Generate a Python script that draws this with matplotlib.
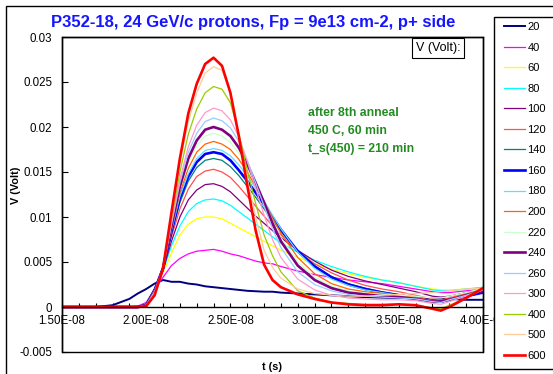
import matplotlib
matplotlib.use("Agg")
import matplotlib.pyplot as plt
from matplotlib.patches import Rectangle
from matplotlib.ticker import MultipleLocator, FuncFormatter
from matplotlib.lines import Line2D

plt.rcParams['font.family'] = ['Liberation Sans', 'DejaVu Sans']

# time axis (ns), values in mV
t_ns = [15, 17, 18, 19, 19.5, 20, 20.5, 21, 21.5, 22, 22.5, 23, 23.5, 24, 24.5, 25,
        25.5, 26, 26.5, 27, 27.5, 28, 29, 30, 31, 32, 33, 34, 35, 36, 37, 37.5, 38, 39, 40]

v20 = [0, 0, 0.2, 0.9, 1.5, 2.0, 2.6, 3.0, 2.8, 2.8, 2.6, 2.5, 2.3, 2.2, 2.1, 2.0, 1.9, 1.8,
       1.75, 1.7, 1.7, 1.6, 1.5, 1.4, 1.3, 1.2, 1.1, 1.05, 1.0, 1.0, 0.95, 0.9, 0.9, 0.8, 0.8]
v40 = [0, 0, 0, 0, 0.1, 0.5, 2.0, 3.3, 4.6, 5.4, 5.9, 6.2, 6.3, 6.4, 6.2, 5.9, 5.7, 5.4,
       5.1, 4.9, 4.8, 4.5, 4.0, 3.6, 3.3, 3.0, 2.8, 2.6, 2.3, 2.0, 1.7, 1.6, 1.6, 1.8, 2.0]
v60 = [0, 0, 0, 0, 0, 0.3, 2.0, 3.8, 6.0, 8.0, 9.2, 9.8, 10.0, 10.0, 9.8, 9.3, 8.8, 8.3,
       7.8, 7.3, 6.8, 6.3, 5.5, 4.8, 4.2, 3.7, 3.3, 3.0, 2.7, 2.3, 2.0, 1.9, 1.9, 2.0, 2.1]
v80 = [0, 0, 0, 0, 0, 0.3, 2.0, 4.0, 6.8, 9.0, 10.6, 11.5, 11.9, 12.0, 11.8, 11.3, 10.6, 9.9,
       9.2, 8.5, 7.8, 7.1, 6.1, 5.2, 4.5, 3.9, 3.4, 3.0, 2.7, 2.3, 1.9, 1.8, 1.8, 2.0, 2.2]
v100 = [0, 0, 0, 0, 0, 0.3, 2.0, 4.1, 7.3, 10.0, 11.9, 13.0, 13.6, 13.7, 13.4, 12.8, 11.9, 11.0,
        10.1, 9.3, 8.5, 7.7, 6.3, 5.1, 4.1, 3.4, 2.9, 2.5, 2.1, 1.7, 1.2, 1.1, 1.2, 1.6, 2.0]
v120 = [0, 0, 0, 0, 0, 0.3, 2.0, 4.2, 7.8, 10.9, 13.1, 14.5, 15.1, 15.3, 15.0, 14.4, 13.4, 12.3,
        11.2, 10.1, 9.0, 8.0, 6.2, 4.8, 3.8, 3.0, 2.4, 2.0, 1.7, 1.3, 0.9, 0.8, 1.0, 1.5, 2.0]
v140 = [0, 0, 0, 0, 0, 0.3, 2.0, 4.3, 8.2, 11.6, 14.0, 15.5, 16.3, 16.5, 16.3, 15.6, 14.6, 13.4,
        12.2, 10.9, 9.6, 8.4, 6.2, 4.6, 3.4, 2.6, 2.1, 1.7, 1.4, 1.1, 0.7, 0.6, 0.8, 1.4, 2.0]
v160 = [0, 0, 0, 0, 0, 0.2, 1.9, 4.3, 8.4, 12.1, 14.5, 16.1, 17.0, 17.2, 17.0, 16.3, 15.2, 14.0,
        12.7, 11.4, 10.0, 8.6, 6.2, 4.5, 3.3, 2.5, 2.0, 1.6, 1.3, 1.0, 0.7, 0.6, 0.8, 1.2, 1.6]
v180 = [0, 0, 0, 0, 0, 0.2, 1.9, 4.3, 8.5, 12.3, 14.8, 16.5, 17.4, 17.6, 17.4, 16.8, 15.8, 14.6,
        13.2, 11.8, 10.2, 8.7, 6.1, 4.3, 3.1, 2.4, 1.9, 1.6, 1.3, 1.0, 0.7, 0.6, 0.8, 1.3, 1.9]
v200 = [0, 0, 0, 0, 0, 0.2, 1.8, 4.3, 8.7, 12.7, 15.4, 17.2, 18.1, 18.4, 18.1, 17.5, 16.4, 15.0,
        13.4, 11.7, 9.9, 8.2, 5.5, 3.7, 2.6, 2.0, 1.7, 1.5, 1.3, 1.1, 0.7, 0.6, 0.9, 1.4, 2.0]
v220 = [0, 0, 0, 0, 0, 0.2, 1.8, 4.3, 8.9, 13.1, 16.0, 17.9, 19.0, 19.3, 19.0, 18.3, 17.1, 15.5,
        13.6, 11.6, 9.6, 7.7, 5.0, 3.3, 2.3, 1.8, 1.5, 1.4, 1.3, 1.2, 1.0, 1.0, 1.2, 1.6, 2.1]
v240 = [0, 0, 0, 0, 0, 0.2, 1.7, 4.3, 9.0, 13.4, 16.5, 18.5, 19.7, 20.0, 19.7, 19.0, 17.7, 15.9,
        13.8, 11.6, 9.3, 7.3, 4.6, 3.0, 2.1, 1.6, 1.4, 1.2, 1.1, 0.9, 0.6, 0.6, 0.8, 1.3, 1.8]
v260 = [0, 0, 0, 0, 0, 0.2, 1.7, 4.3, 9.2, 13.8, 17.2, 19.3, 20.6, 21.0, 20.7, 19.9, 18.4, 16.3,
        13.8, 11.2, 8.7, 6.6, 3.9, 2.5, 1.8, 1.4, 1.2, 1.1, 1.0, 0.9, 0.6, 0.5, 0.8, 1.3, 1.9]
v300 = [0, 0, 0, 0, 0, 0.2, 1.6, 4.3, 9.4, 14.2, 17.8, 20.2, 21.6, 22.1, 21.8, 20.8, 18.9, 16.2,
        13.2, 10.2, 7.5, 5.5, 3.1, 1.9, 1.3, 1.0, 0.9, 0.8, 0.8, 0.7, 0.4, 0.3, 0.6, 1.2, 1.9]
v400 = [0, 0, 0, 0, 0, 0.1, 1.5, 4.3, 9.8, 15.0, 19.2, 22.0, 23.8, 24.5, 24.2, 22.7, 19.3, 15.2,
        11.5, 8.0, 5.7, 3.9, 1.8, 1.0, 0.5, 0.4, 0.3, 0.3, 0.3, 0.2, -0.1, -0.2, 0.2, 1.0, 2.0]
v500 = [0, 0, 0, 0, 0, 0.1, 1.4, 4.3, 10.2, 16.0, 20.6, 23.8, 26.0, 26.7, 26.3, 23.9, 18.8, 14.3,
        10.0, 6.3, 4.4, 3.2, 2.0, 1.5, 1.3, 1.2, 1.2, 1.3, 1.4, 1.5, 1.6, 1.7, 1.8, 2.0, 2.1]
v600 = [0, 0, 0, 0, 0, 0.1, 1.3, 4.3, 10.5, 16.5, 21.5, 24.8, 27.0, 27.7, 26.8, 23.8, 19.0, 13.5,
        8.5, 4.7, 3.0, 2.2, 1.4, 0.9, 0.5, 0.3, 0.2, 0.2, 0.3, 0.2, -0.2, -0.4, 0.0, 1.0, 2.1]

labels = ['20', '40', '60', '80', '100', '120', '140', '160', '180', '200',
          '220', '240', '260', '300', '400', '500', '600']
series = [v20, v40, v60, v80, v100, v120, v140, v160, v180, v200,
          v220, v240, v260, v300, v400, v500, v600]
colors = ['#000080', '#FF00FF', '#FFFF00', '#00FFFF', '#800080', '#FF5050', '#008080',
          '#0000FF', '#66D9FF', '#FF6600', '#CCFFCC', '#800080', '#99CCFF', '#FF99CC',
          '#99CC00', '#FFCC99', '#FF0000']
widths = [1.4, 0.9, 0.9, 0.9, 0.9, 0.9, 0.9, 1.9, 0.9, 0.9, 0.9, 1.9, 0.9, 0.9, 0.9, 0.9, 1.9]

W, H = 553, 374
fig = plt.figure(figsize=(W / 100, H / 100), dpi=100)
ax = fig.add_axes([62 / W, 22 / H, 421 / W, 315 / H])

t = [x * 1e-9 for x in t_ns]
for vals, c, lw in zip(series, colors, widths):
    ax.plot(t, [v / 1000 for v in vals], color=c, lw=lw, solid_joinstyle='round')

ax.set_xlim(1.5e-8, 4.0e-8)
ax.set_ylim(-0.005, 0.03)

ax.xaxis.set_major_locator(MultipleLocator(5e-9))
ax.xaxis.set_minor_locator(MultipleLocator(1e-9))
ax.yaxis.set_major_locator(MultipleLocator(0.005))
ax.xaxis.set_major_formatter(FuncFormatter(lambda v, p: f"{v:.2E}"))
ax.yaxis.set_major_formatter(FuncFormatter(lambda v, p: f"{round(v, 4):g}"))

ax.spines['bottom'].set_position(('data', 0))
ax.spines['bottom'].set_linewidth(1.0)
for s in ['left', 'top', 'right']:
    ax.spines[s].set_linewidth(1.0)
ax.add_patch(Rectangle((0, 0), 1, 1, transform=ax.transAxes, fill=False,
                       lw=1.0, ec='black', clip_on=False))

ax.tick_params(axis='x', which='both', direction='in', length=3, width=0.8,
               labelsize=8.3, pad=6)
ax.tick_params(axis='y', direction='in', length=4, width=0.8, labelsize=8.3, pad=7)

fig.text(253 / W, 1 - 23 / H, 'P352-18, 24 GeV/c protons, Fp = 9e13 cm-2, p+ side',
         color='#1515FF', fontsize=12, fontweight='bold', ha='center', va='center')
fig.text(272 / W, 1 - 367 / H, 't (s)', fontsize=7.8, fontweight='bold',
         ha='center', va='center')
fig.text(16 / W, 1 - 185 / H, 'V (Volt)', fontsize=7.8, fontweight='bold',
         ha='center', va='center', rotation=90)

green = '#228B22'
for i, s in enumerate(['after 8th anneal', '450 C, 60 min', 't_s(450) = 210 min']):
    fig.text(308 / W, 1 - (113 + 18 * i) / H, s, color=green, fontsize=8.8,
             fontweight='bold', ha='left', va='center')

fig.text(438 / W, 1 - 48 / H, 'V (Volt):', fontsize=9, ha='center', va='center',
         bbox=dict(boxstyle='square,pad=0.3', fc='white', ec='black', lw=0.8))

# outer chart border and legend box
fig.patches.append(Rectangle((6 / W, -0.1), 1.2, 1 - 6 / H + 0.1, transform=fig.transFigure,
                             fill=False, ec='black', lw=1.0))
fig.patches.append(Rectangle((494 / W, 1 - 369 / H), 0.2, (369 - 17) / H,
                             transform=fig.transFigure, fc='white', ec='black', lw=1.0,
                             zorder=3))

handles = [Line2D([], [], color=c, lw=lw) for c, lw in zip(colors, widths)]
fig.legend(handles, labels, loc='upper left', bbox_to_anchor=(504 / W, 1 - 22 / H),
           frameon=False, fontsize=8, handlelength=1.9, handletextpad=0.2,
           labelspacing=0.95, borderaxespad=0, borderpad=0)

fig.savefig('out.png', dpi=100)
